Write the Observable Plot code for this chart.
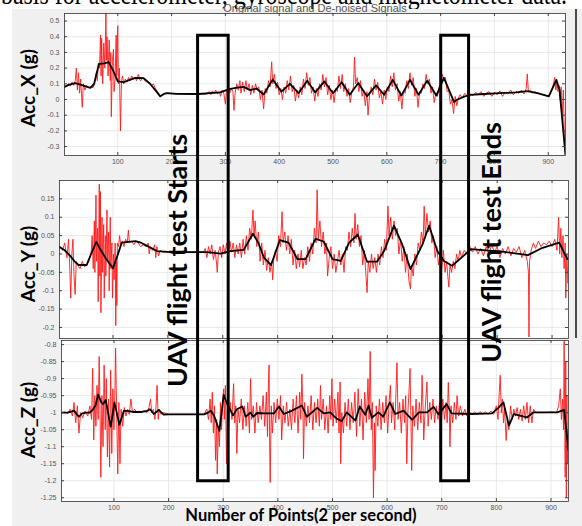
<!DOCTYPE html>
<html><head><meta charset="utf-8">
<script src="https://cdn.jsdelivr.net/npm/d3@7"></script>
<script src="https://cdn.jsdelivr.net/npm/@observablehq/plot@0.6"></script>
<style>
html,body{margin:0;padding:0;background:#fff;}
#fig{position:relative;width:582px;height:526px;overflow:hidden;background:#f0f0f0;}
#fig svg{position:absolute;left:0;}
.lbl{position:absolute;font-family:Lato,"Open Sans",sans-serif;font-weight:bold;color:#000;white-space:nowrap;transform:translate(-50%,-50%) rotate(-90deg);font-size:19px;}
#xlab{position:absolute;left:301px;top:507px;line-height:17px;transform:translateX(-50%);font-family:Lato,sans-serif;font-weight:bold;font-size:16.5px;white-space:nowrap;}
#topstrip{position:absolute;left:0;top:0;width:582px;height:9px;background:#fff;overflow:hidden;}
#topstrip span{position:absolute;left:1px;top:-21px;font-family:"Liberation Serif",serif;font-size:30px;line-height:30px;white-space:nowrap;transform-origin:0 0;}
#leftstrip{position:absolute;left:0;top:0;width:12px;height:526px;background:#fff;}
#rightedge{position:absolute;left:575px;top:0;width:1.5px;height:338px;background:#4a4a4a;}
</style></head>
<body><div id="fig"><div id="leftstrip"></div><div id="rightedge"></div><div id="topstrip"><span id="toptext"></span></div></div>
<script>
// ---------- data ----------
const xTicks = [100,200,300,400,500,600,700,800,900];
const yTicksX = [-0.3,-0.2,-0.1,0,0.1,0.2,0.3,0.4,0.5];
const yTicksY = [-0.2,-0.15,-0.1,-0.05,0,0.05,0.1,0.15];
const yTicksZ = [-1.25,-1.2,-1.15,-1.1,-1.05,-1,-0.95,-0.9,-0.85,-0.8];
const panelTitle = "Original signal and De-noised Signals";
const yLabels = ["Acc_X (g)","Acc_Y (g)","Acc_Z (g)"];
const xLabel = "Number of Points(2 per second)";
const pageText = "basis for accelerometer, gyroscope and magnetometer data.";

const accXRaw = [[1,0.08],[5,0.09],[9,0.1],[12,0.085],[15,0.11],[18,0.09],[21,0.12],[23,0.2],[25,0.06],[27,0.17],[29,0.04],[31,0.13],[34,-0.05],[36,0.1],[39,0.06],[42,0.09],[46,0.075],[50,0.08],[54,0.075],
[57,0.1],[60,0.17],[62,0.12],[64,0.23],[66,0.2],[68,0.41],[69,0.15],[70,0.39],[72,0.1],[74,0.36],[76,0.2],[78,0.55],[79,0.25],[80,0.4],[82,0.15],[84,0.38],[86,0.12],[87,0.3],[88,-0.11],[90,0.25],[92,0.32],[93,0.05],[95,0.13],[97,0.41],[98,0.15],[100,0.47],[101,0.1],[103,0.2],[105,-0.2],[107,0.12],[109,0.15],[111,0.1],[114,0.13],[117,0.11],[120,0.14],[123,0.12],[126,0.15],[129,0.13],[132,0.14],[135,0.12],[138,0.16],[141,0.125],[143,0.12],[146,0.14],[150,0.12],[155,0.11],[160,0.1],[163,0.09],[166,0.1],[170,0.07],[174,0.05],[178,0.02],[182,0.03],[186,0.04],[190,0.04],[200,0.036],[220,0.036],[240,0.035],[260,0.035],
[265,0.035],[270,0.05],[273,0.03],[276,0.055],[279,0.04],[282,0.06],[285,0.035],[288,0.05],[291,0.02],[294,0.06],[297,0.04],[300,-0.03],[302,0.05],[305,0.07],[308,0.04],[311,0.07],[314,0.05],[316,-0.07],[318,0.04],[321,0.1],[324,0.06],[327,0.12],[329,0.04],
[332,0.11],[335,0.05],[338,0.12],[341,0.06],[344,0.1],[347,0.03],[350,0.09],[353,0.04],[356,0.1],[359,0.06],[362,0.08],[365,0.0],[368,0.06],[371,-0.06],[374,0.07],[377,0.04],[380,0.12],[383,0.08],[386,0.24],[388,0.1],[391,0.16],[394,0.07],[397,0.11],[400,0.03],[403,0.07],[406,0.0],[409,0.08],[412,0.04],[415,0.12],[418,0.06],[421,0.15],[424,0.05],[427,0.09],[430,-0.01],[433,0.06],[436,0.01],[439,0.08],[442,0.03],[445,0.13],[448,0.07],[451,0.17],[454,0.09],[457,0.14],[460,0.04],[463,0.08],[466,-0.01],[469,0.07],[472,0.02],[475,0.1],[478,0.06],[481,0.16],[484,0.08],[487,0.14],[490,0.03],[493,0.09],[496,0.0],[499,0.06],[502,-0.02],[505,0.07],[508,0.05],[511,0.15],[514,0.07],[517,0.16],[520,0.05],[523,0.1],[526,0.02],[529,0.07],[532,-0.02],[535,0.05],[538,0.08],[540,0.27],[542,0.1],[545,0.14],[548,0.05],[551,0.12],[554,0.02],[557,0.06],[560,-0.04],[563,0.05],[565,-0.1],[568,0.03],[571,0.08],[574,0.03],[577,0.13],[580,0.06],[583,0.11],[586,0.01],[589,0.05],[592,-0.03],[595,0.06],[598,0.0],[601,0.08],[604,0.05],[607,0.15],[610,0.08],[613,0.17],[616,0.06],[619,0.1],[622,-0.01],[625,0.05],[628,-0.06],[631,0.06],[634,0.04],[637,0.12],[640,0.07],[643,0.17],[646,0.09],[649,0.14],[652,0.02],[655,0.07],[658,-0.05],[661,0.05],[664,0.04],[667,0.1],[670,0.07],[673,0.16],[676,0.1],[679,0.13],[682,0.04],[685,0.08],[688,-0.02],[691,0.04],[694,0.02],[697,0.08],[700,0.1],[703,0.16],[706,0.12],[709,0.14],[712,0.05],[715,0.06],[718,-0.03],[721,0.0],[724,-0.09],[727,0.02],[730,-0.04],[733,0.01],[736,0.03],[740,0.01],
[745,0.04],[750,0.02],[755,0.035],[760,0.025],[765,0.045],[770,0.03],[775,0.05],[780,0.02],[785,0.04],[790,0.05],[795,0.02],[800,0.045],[805,0.03],[810,0.055],[815,0.02],[820,0.045],[825,0.035],[830,0.06],[835,0.03],[840,0.05],[845,0.04],[850,0.06],[855,0.035],[859,0.07],[861,0.163],[863,0.05],[867,0.06],[871,0.04],[875,0.05],[880,0.04],[885,0.035],[890,0.03],[895,0.025],[900,0.02],[905,0.05],[909,0.09],[912,0.14],[914,0.06],[916,0.11],[918,0.05],[920,0.09],[922,0.0],[924,0.08],[926,-0.1],[928,0.06],[930,-0.25],[932,-0.35]];

const accXDen = [[1,0.08],[10,0.095],[21,0.104],[35,0.09],[49,0.074],[56,0.1],[65,0.227],[75,0.23],[83,0.238],[92,0.18],[100,0.115],[111,0.11],[122,0.125],[133,0.138],[148,0.136],[160,0.1],[172,0.05],[179,0.02],[186,0.035],[192,0.04],[210,0.036],[250,0.035],[290,0.045],[309,0.068],[322,0.075],[334,0.08],[346,0.06],[358,0.07],[371,0.032],[388,0.127],[404,0.05],[420,0.1],[436,0.04],[452,0.12],[467,0.045],[484,0.115],[500,0.04],[516,0.11],[531,0.03],[547,0.105],[563,0.02],[580,0.09],[595,0.03],[611,0.125],[627,0.025],[643,0.125],[659,0.03],[675,0.12],[692,0.025],[706,0.138],[718,0.04],[725,-0.017],[731,0.0],[745,0.02],[755,0.03],[780,0.035],[810,0.04],[840,0.045],[861,0.053],[880,0.04],[901,0.02],[915,0.125],[921,0.06],[932,-0.357]];

const accYRaw = [[3,0.02],[8,0.01],[12,0.03],[16,-0.01],[19,0.04],[21,-0.03],[23,-0.12],[25,0.0],[27,0.04],[29,-0.06],[31,-0.11],[33,-0.02],[36,-0.03],[40,-0.04],[44,-0.02],[48,-0.035],[52,-0.03],[56,-0.02],
[60,0.0],[62,0.05],[64,-0.04],[66,0.09],[67,-0.05],[69,0.16],[70,-0.02],[72,0.07],[73,-0.13],[75,0.19],[76,-0.06],[77,0.17],[78,-0.16],[80,0.1],[81,-0.05],[83,0.08],[84,-0.12],[86,0.05],[87,-0.06],[89,0.12],[90,-0.02],[92,0.06],[93,-0.1],[95,0.1],[96,-0.04],[98,0.03],[99,-0.12],[101,0.0],[102,-0.07],[104,0.03],[105,-0.195],[106,-0.02],[107,-0.14],[108,0.03],[110,0.02],[112,0.05],[114,0.025],[117,0.035],[120,0.02],[123,0.04],[126,0.03],[128,0.065],[130,0.03],[134,0.035],[138,0.025],[142,0.035],[146,0.03],[150,0.02],[155,0.025],[160,0.02],[164,0.03],[166,0.0],[168,0.02],[172,0.01],[176,0.025],[178,-0.01],[180,0.02],[183,-0.005],[186,0.01],[190,0.005],[200,0.006],[230,0.005],[265,0.005],
[268,0.015],[271,-0.01],[274,0.02],[277,0.0],[280,0.025],[283,-0.015],[286,0.01],[289,-0.03],[290,-0.05],[292,0.005],[295,0.02],[298,-0.01],[301,0.025],[304,0.0],[307,0.03],[310,-0.005],[313,0.035],[316,0.005],[319,0.03],[322,-0.01],[325,0.025],[328,0.0],
[331,0.03],[334,-0.01],[337,0.04],[340,0.0],[343,0.05],[346,0.01],[349,0.07],[352,0.04],[355,0.12],[357,0.05],[359,0.09],[362,0.02],[365,0.06],[368,-0.02],[371,0.03],[374,-0.03],[377,0.01],[380,-0.045],[383,-0.01],[386,-0.05],[389,-0.02],[391,-0.07],[393,-0.01],[396,0.01],[399,-0.02],[402,0.05],[405,0.02],[408,0.115],[410,0.03],[413,0.06],[416,0.01],[419,0.05],[422,0.0],[425,0.04],[428,-0.03],[431,0.01],[434,-0.04],[437,0.0],[440,-0.035],[443,0.01],[446,-0.04],[449,-0.01],[452,-0.03],[455,0.02],[458,-0.02],[461,0.03],[464,0.0],[467,0.07],[470,0.03],[472,0.175],[474,0.04],[477,0.09],[480,0.02],[483,0.06],[486,0.0],[489,0.03],[491,-0.06],[494,-0.01],[497,0.02],[500,-0.04],[503,0.0],[506,-0.05],[509,-0.02],[512,0.01],[515,-0.03],[518,0.0],[521,-0.05],[524,0.02],[527,0.01],[530,0.06],[533,0.02],[536,0.07],[539,0.03],[541,0.11],[543,0.04],[546,0.08],[549,0.02],[552,0.05],[555,-0.03],[558,0.01],[561,-0.06],[563,-0.105],[565,-0.02],[568,-0.05],[571,0.0],[574,-0.04],[577,-0.01],[580,-0.05],[583,0.0],[586,-0.03],[589,0.02],[592,-0.01],[595,0.04],[598,0.01],[601,0.13],[603,0.05],[606,0.1],[609,0.04],[612,0.09],[615,0.05],[618,0.07],[621,0.0],[624,0.04],[627,-0.02],[630,0.02],[633,-0.05],[636,0.0],[639,-0.07],[642,-0.095],[644,-0.03],[647,-0.06],[650,0.0],[653,-0.03],[656,0.03],[659,0.01],[662,0.06],[665,0.03],[667,0.13],[669,0.05],[672,0.11],[675,0.06],[678,0.09],[681,0.03],[684,0.05],[687,-0.01],[690,0.02],[693,-0.03],[696,0.0],[699,-0.04],[702,0.01],[705,-0.05],[708,-0.02],[710,-0.06],[712,-0.09],[714,-0.03],[717,-0.05],[720,-0.02],[723,-0.04],[726,0.0],[729,-0.02],[732,0.01],[735,-0.01],[740,0.01],[745,0.0],[750,0.02],
[755,0.005],[760,0.02],[765,0.0],[770,0.015],[775,-0.005],[780,0.02],[785,0.0],[790,0.025],[795,0.005],[800,0.02],[805,-0.01],[810,0.015],[815,0.0],[820,0.02],[825,-0.005],[830,0.015],[835,0.005],[840,0.02],[845,-0.01],[850,0.01],[855,-0.02],[857,-0.05],[858,-0.226],[859,-0.02],[862,0.01],[866,0.03],[870,0.015],[875,0.035],[880,0.02],[885,0.03],[890,0.025],[895,0.035],[900,0.02],[905,0.04],[909,0.01],[912,0.1],[914,0.0],[916,0.07],[918,-0.01],[920,0.05],[922,-0.04],[924,0.03],[925,-0.12],[927,0.0],[929,-0.08],[931,-0.02]];

const accYDen = [[2.6,0.019],[12,0.01],[22,-0.005],[30,-0.02],[37,-0.03],[52,-0.03],[60,0.0],[69.5,0.033],[78,0.01],[86,-0.01],[100,-0.039],[108,-0.005],[116,0.031],[128,0.033],[141,0.035],[152,0.03],[162,0.022],[180,0.008],[200,0.006],[230,0.005],[271,0.005],[285,0.003],[296,0.001],[314,0.008],[338,0.011],[355,0.055],[365,0.03],[375,-0.01],[388,-0.03],[404,0.038],[420,0.031],[436,-0.014],[451,-0.014],[469,0.041],[484,0.034],[500,-0.014],[515,-0.019],[530,0.03],[546,0.053],[563,-0.021],[581,-0.021],[594,0.008],[612,0.077],[627,0.026],[642,-0.041],[664,0.026],[676,0.077],[691,0.008],[703,-0.019],[718,-0.032],[735,-0.01],[752,0.013],[780,0.01],[813,0.006],[856,-0.003],[880,0.015],[913,0.031],[928,-0.014]];

const accZRaw = [[4,-1.0],[10,-0.998],[15,-1.003],[20,-0.99],[24,-1.01],[27,-0.97],[30,-1.03],[33,-0.98],[36,-1.06],[39,-1.0],[43,-1.015],[47,-0.995],[52,-1.01],[56,-0.98],[59,-1.02],[61,-0.87],[63,-1.08],[65,-0.95],[67,-1.04],[69,-0.92],[71,-1.02],[73,-0.835],[75,-1.05],[76,-1.19],[78,-0.95],[80,-1.1],[82,-0.86],[84,-1.05],[86,-0.9],[88,-1.13],[90,-0.96],[92,-1.16],[94,-0.875],[96,-1.12],[98,-0.93],[100,-1.05],[102,-0.92],[103,-0.81],[105,-1.0],[107,-1.18],[109,-0.97],[111,-1.15],[113,-0.99],[116,-1.04],[119,-0.985],[122,-1.01],[125,-0.99],[128,-1.005],[131,-0.96],[134,-1.0],[138,-0.99],[142,-1.0],[146,-0.995],[150,-1.0],[155,-0.995],[160,-1.0],[164,-0.985],[167,-0.96],[169,-1.0],[172,-0.99],[175,-1.02],[177,-0.98],[179,-0.92],[181,-1.02],[183,-0.99],[186,-1.005],[190,-1.0],[200,-1.005],[230,-1.005],[265,-1.005],
[270,-0.99],[273,-1.02],[276,-0.96],[278,-1.03],[280,-0.94],[282,-1.06],[284,-0.98],[286,-1.14],[288,-1.02],[289,-1.18],[291,-1.04],[293,-1.1],[295,-0.97],[297,-1.05],[299,-0.96],[301,-0.93],[302,-1.02],[304,-0.92],[306,-1.15],[308,-0.99],[310,-1.04],[313,-0.97],[316,-1.02],[319,-0.915],[321,-1.03],[323,-0.98],[325,-1.12],[327,-0.99],[330,-1.03],[333,-0.96],[336,-1.05],[339,-0.98],[342,-1.04],[345,-0.97],[348,-1.06],[350,-0.9],[352,-1.02],[355,-0.98],[358,-1.06],[361,-0.97],[364,-1.03],[367,-0.98],[370,-1.02],[373,-0.95],[376,-1.04],[379,-0.94],[381,-1.07],[383,-0.9],[384,-0.86],[385,-1.1],[386,-1.205],[388,-0.98],[390,-1.06],[393,-0.97],[396,-1.03],[399,-0.96],[402,-1.02],[405,-0.95],[407,-1.08],[410,-0.98],[413,-1.03],[416,-0.97],[419,-1.04],[422,-0.99],[425,-1.05],[428,-0.96],[431,-1.03],[434,-0.95],[437,-1.06],[440,-0.94],[442,-1.02],[444,-0.887],[446,-1.0],[447,-1.135],[449,-0.97],[452,-1.04],[455,-0.98],[458,-1.03],[461,-0.95],[464,-1.05],[467,-0.97],[470,-1.03],[473,-0.96],[476,-1.04],[478,-0.92],[480,-1.02],[483,-0.96],[486,-1.05],[489,-0.98],[492,-1.06],[495,-0.95],[497,-1.02],[499,-0.9],[501,-1.04],[504,-0.96],[507,-1.03],[510,-0.94],[512,-1.06],[514,-0.91],[515,-1.15],[517,-1.0],[520,-1.06],[523,-0.97],[526,-1.04],[529,-0.96],[532,-1.05],[535,-0.97],[538,-1.03],[541,-0.94],[544,-1.07],[547,-0.93],[550,-1.04],[553,-0.96],[556,-1.08],[559,-0.94],[562,-1.03],[565,-0.9],[567,-1.02],[569,-0.82],[571,-1.05],[573,-0.97],[575,-1.25],[577,-1.03],[578,-1.17],[580,-0.98],[583,-1.04],[586,-0.96],[589,-1.05],[592,-0.97],[595,-1.03],[598,-0.95],[601,-1.06],[604,-0.96],[606,-0.92],[608,-1.03],[611,-0.97],[614,-1.05],[616,-0.95],[618,-0.853],[620,-1.02],[623,-0.97],[626,-1.06],[629,-0.96],[632,-1.03],[634,-0.95],[636,-1.15],[638,-1.0],[640,-0.94],[642,-0.87],[644,-1.06],[645,-1.17],[647,-0.98],[650,-1.04],[653,-0.96],[656,-1.05],[659,-0.97],[662,-1.03],[664,-0.89],[666,-1.0],[667,-1.08],[670,-0.98],[673,-0.91],[675,-1.04],[678,-0.97],[681,-1.02],[684,-0.96],[687,-1.03],[690,-0.98],[693,-1.02],[696,-0.97],[699,-1.04],[702,-0.96],[705,-1.02],[708,-0.97],[710,-1.03],[712,-0.911],[714,-1.0],[715,-1.1],[717,-0.98],[720,-1.03],[723,-0.97],[726,-1.02],[728,-0.95],[731,-1.01],[734,-0.98],[738,-1.01],[742,-0.99],[746,-1.01],[750,-0.995],[755,-1.005],[760,-0.998],[765,-1.006],[770,-0.997],[775,-1.004],[780,-0.998],[785,-1.005],[790,-0.995],[795,-1.005],[800,-0.98],[803,-1.02],[805,-0.95],[807,-0.89],[809,-1.0],[811,-0.96],[813,-1.03],[815,-0.99],[818,-1.082],[820,-1.02],[823,-1.05],[826,-0.98],[829,-1.02],[832,-0.99],[835,-1.01],[838,-0.985],[841,-1.02],[844,-0.99],[847,-1.025],[850,-0.98],[853,-1.02],[856,-0.97],[859,-1.03],[862,-0.98],[865,-1.03],[868,-0.99],[872,-1.0],[880,-1.0],[890,-1.0],[900,-0.998],[910,-1.0],[914,-0.98],[917,-0.93],[919,-1.02],[921,-0.96],[923,-1.05],[924,-0.79],[925,-1.0],[926,-1.19],[927,-0.85],[928,-1.25],[929,-0.95],[930,-1.15],[931,-1.05],[932,-1.12]];

const accZDen = [[4,-1.0],[15,-1.0],[20,-0.998],[27,-0.994],[32,-1.005],[36,-1.012],[42,-1.002],[50,-1.0],[55,-1.0],[60,-0.994],[66,-0.98],[71,-0.947],[77,-0.97],[80,-0.975],[85,-0.963],[94,-1.041],[101,-0.97],[110,-1.036],[118,-0.995],[125,-0.995],[135,-0.998],[150,-0.998],[161,-0.995],[166,-0.99],[173,-1.004],[182,-0.992],[191,-1.006],[200,-1.005],[230,-1.005],[265,-1.005],[272,-1.0],[277,-0.994],[283,-1.008],[293,-1.053],[301,-0.948],[307,-0.973],[313,-0.992],[318,-1.008],[325,-0.99],[335,-0.982],[341,-1.012],[350,-1.0],[355,-1.012],[362,-1.001],[375,-1.002],[393,-1.002],[402,-0.982],[411,-1.004],[426,-0.994],[444,-0.979],[453,-1.012],[472,-0.986],[484,-1.002],[496,-0.999],[508,-1.018],[517,-1.025],[526,-0.999],[542,-1.023],[550,-0.982],[560,-1.006],[566,-0.979],[572,-1.015],[584,-0.999],[593,-1.012],[605,-0.97],[615,-1.004],[630,-0.994],[646,-1.021],[658,-0.999],[673,-0.999],[685,-0.983],[694,-1.005],[709,-0.975],[718,-1.002],[752,-1.004],[792,-1.002],[804,-0.985],[813,-0.97],[823,-1.038],[832,-1.004],[856,-1.014],[868,-0.999],[911,-0.999],[924,-0.992],[932,-1.11]];

// annotation values (x in sample index, y as fraction of figure height)
const flightRects = [{x1:254, x2:310, y1:0.067, y2:0.914},{x1:699, x2:750, y1:0.067, y2:0.914}];
const flightLabels = [{x:218, y:0.494, text:"UAV flight test Starts"},{x:792, y:0.46, text:"UAV flight test Ends"}];

// ---------- drawing ----------
const fig = document.getElementById("fig");
const fmt = d => String(+d.toFixed(2));
const px = d => d[0], py = d => d[1];

// clipped line of page text above the figure
const tt = document.getElementById("toptext");
tt.textContent = pageText;
const tw = tt.getBoundingClientRect().width;
tt.style.transform = `scaleX(${566 / tw})`;

function panel(o) {
  const fh = o.height - o.mt - o.mb, fw = 582 - o.ml - o.mr;
  const svg = Plot.plot({
    width: 582, height: o.height,
    marginLeft: o.ml, marginRight: o.mr, marginTop: o.mt, marginBottom: o.mb,
    style: {background: "transparent", fontFamily: "'Liberation Sans', Arial, sans-serif", fontSize: "7px", color: "#555", overflow: "visible"},
    x: {domain: o.xd, ticks: xTicks, tickFormat: d => d, tickSize: 0, tickPadding: 4, label: null, axis: o.showX ? "bottom" : null},
    y: {domain: o.yd, ticks: o.yt, tickFormat: fmt, tickSize: 0, tickPadding: 5, label: null},
    marks: [
      Plot.frame({fill: "white"}),
      Plot.ruleX(xTicks, {stroke: "#e3e3e3", strokeWidth: 0.8}),
      Plot.ruleY(o.yt, {stroke: "#e3e3e3", strokeWidth: 0.8}),
      Plot.line(o.raw, {x: px, y: py, stroke: "#ff1a1a", strokeWidth: 0.9, clip: true}),
      Plot.line(o.den, {x: px, y: py, stroke: "#000", strokeWidth: 1.8, clip: true}),
      Plot.ruleX(xTicks, {stroke: "#444", insetTop: fh - 3}),
      Plot.ruleX(xTicks, {stroke: "#444", insetBottom: fh - 3}),
      Plot.ruleY(o.yt, {stroke: "#444", insetRight: fw - 3}),
      Plot.ruleY(o.yt, {stroke: "#444", insetLeft: fw - 3}),
      Plot.frame({stroke: "#333", strokeWidth: 0.8}),
      o.title ? Plot.text([o.title], {text: d => d, frameAnchor: "top", lineAnchor: "bottom", dy: -2, fontSize: 11, fill: "#555"}) : null
    ]
  });
  svg.style.top = o.top + "px";
  fig.appendChild(svg);
}

panel({top: 0, height: 170, mt: 13, mb: 15, ml: 64, mr: 17, xd: [1, 932], yd: [-0.357, 0.548], yt: yTicksX, raw: accXRaw, den: accXDen, showX: true, title: panelTitle});
panel({top: 170, height: 170, mt: 10, mb: 2, ml: 59, mr: 14, xd: [2.5, 930], yd: [-0.23, 0.2], yt: yTicksY, raw: accYRaw, den: accYDen, showX: false});
panel({top: 335, height: 191, mt: 5, mb: 25, ml: 61, mr: 14, xd: [4, 932], yd: [-1.261, -0.788], yt: yTicksZ, raw: accZRaw, den: accZDen, showX: true});

// overlay annotations
const over = Plot.plot({
  width: 582, height: 526, margin: 0,
  style: {background: "transparent", overflow: "visible", pointerEvents: "none"},
  x: {domain: [4, 932], range: [61, 568], axis: null},
  y: {domain: [0, 1], range: [0, 526], axis: null},
  marks: [
    Plot.rect(flightRects, {x1: "x1", x2: "x2", y1: "y1", y2: "y2", fill: "none", stroke: "#000", strokeWidth: 3}),
    Plot.text(flightLabels, {x: "x", y: "y", text: "text", rotate: -90, fontSize: 27, fontWeight: "bold", fontFamily: "Lato, 'Open Sans', sans-serif", fill: "#000"})
  ]
});
over.style.top = "0px";
fig.appendChild(over);

// axis titles
const ylPos = [[27, 88], [27, 264], [27, 420]];
yLabels.forEach((t, i) => {
  const d = document.createElement("div");
  d.className = "lbl"; d.textContent = t;
  d.style.left = ylPos[i][0] + "px"; d.style.top = ylPos[i][1] + "px";
  fig.appendChild(d);
});
const xl = document.createElement("div");
xl.id = "xlab"; xl.textContent = xLabel;
fig.appendChild(xl);
</script>
</body></html>
